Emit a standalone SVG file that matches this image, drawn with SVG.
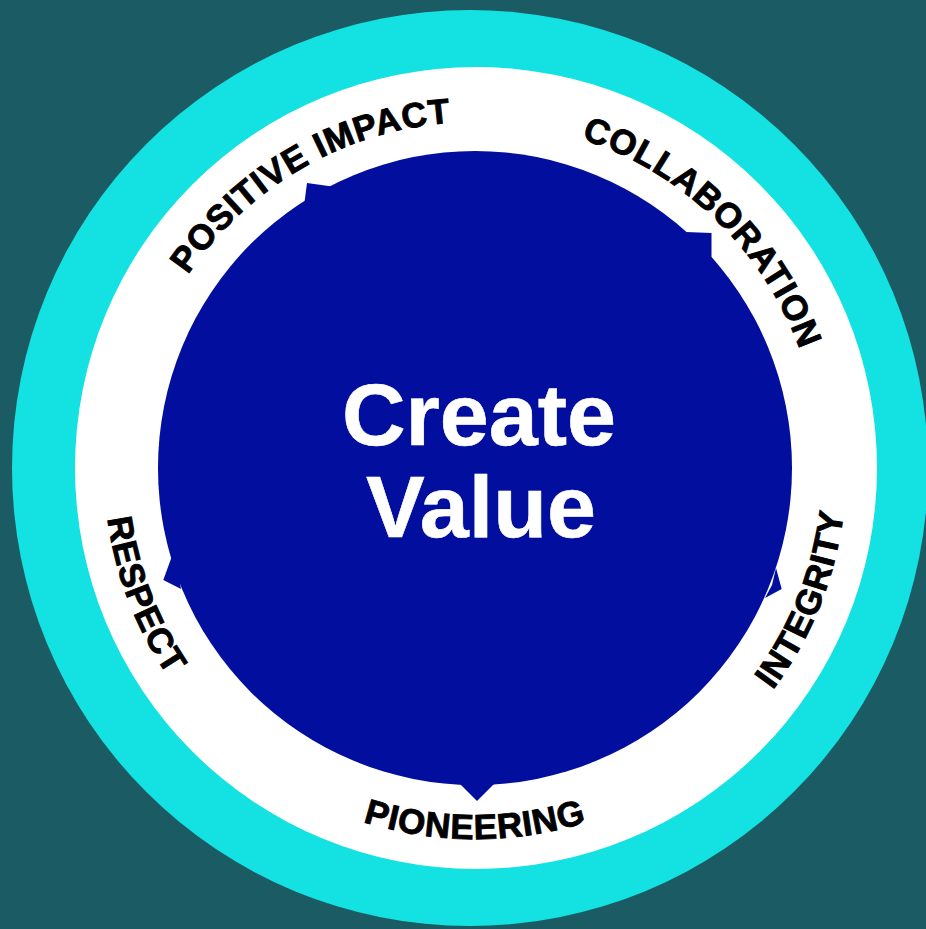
<svg xmlns="http://www.w3.org/2000/svg" width="926" height="929" viewBox="0 0 926 929">
<style>
.lbl{font-family:"Liberation Sans",Arial,sans-serif;font-weight:bold;font-size:35px;letter-spacing:0.8px;fill:#000;stroke:#000;stroke-width:0.9px}
.ctr{font-family:"Liberation Sans",Arial,sans-serif;font-weight:bold;font-size:88px;fill:#fff;stroke:#fff;stroke-width:0.6px}
.blue{fill:#020e9d}
</style>
<defs>
<path id="pPos" d="M161.4,614.2 A346,346 0 0 1 758.4,269.5"/>
<path id="pCol" d="M248.0,206.9 A346,346 0 0 1 743.9,685.7"/>
<path id="pInt" d="M367.8,823.2 A371,371 0 0 0 642.3,136.8"/>
<path id="pPio" d="M105.4,500.3 A371,371 0 0 0 844.6,500.3"/>
<path id="pRes" d="M312.4,134.5 A371,371 0 0 0 577.3,824.6"/>
</defs>
<rect width="926" height="929" fill="#1b5c64"/>
<circle cx="470" cy="468" r="458" fill="#14e1e1"/>
<circle cx="476" cy="468" r="401" fill="#ffffff"/>
<g id="core">
<circle class="blue" cx="475" cy="468" r="317"/>
<g id="barbs" class="blue">
<polygon points="304,206 307,183 332,186.5 320,200"/>
<polygon points="686,232 711.5,233 711.5,257 700,250"/>
<polygon points="172,556 163.3,580 181,589 178,570"/>
<polygon points="776,568 781.7,589 765,598 772,585"/>
<polygon points="460,784 477,801 494,784"/>
</g>
<text class="ctr" x="479" y="445" text-anchor="middle">Create</text>
<text class="ctr" x="481" y="537" text-anchor="middle">Value</text>
</g>
<g id="positive-impact"><text class="lbl"><textPath href="#pPos" startOffset="50%" text-anchor="middle">POSITIVE IMPACT</textPath></text></g>
<g id="collaboration"><text class="lbl"><textPath href="#pCol" startOffset="50%" text-anchor="middle">COLLABORATION</textPath></text></g>
<g id="integrity"><text class="lbl"><textPath href="#pInt" startOffset="50%" text-anchor="middle">INTEGRITY</textPath></text></g>
<g id="pioneering"><text class="lbl"><textPath href="#pPio" startOffset="50%" text-anchor="middle">PIONEERING</textPath></text></g>
<g id="respect"><text class="lbl"><textPath href="#pRes" startOffset="50%" text-anchor="middle">RESPECT</textPath></text></g>
<g id="connectors"/>
</svg>
